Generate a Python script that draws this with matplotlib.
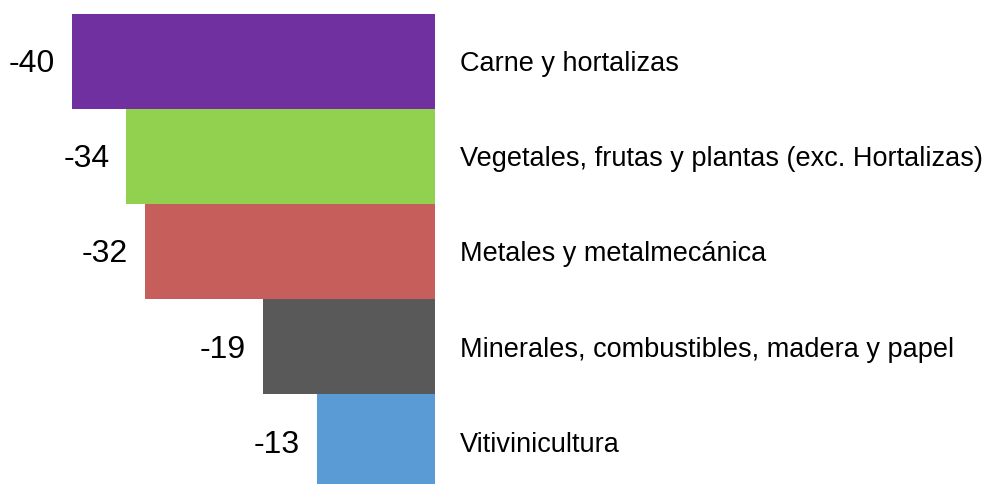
import matplotlib
matplotlib.use('Agg')
import matplotlib.pyplot as plt
from matplotlib.transforms import offset_copy

plt.rcParams['font.family'] = ['Liberation Sans', 'DejaVu Sans']

categorias = ['Carne y hortalizas',
              'Vegetales, frutas y plantas (exc. Hortalizas)',
              'Metales y metalmecánica',
              'Minerales, combustibles, madera y papel',
              'Vitivinicultura']
valores = [-40, -34, -32, -19, -13]
colores = ['#7030A0', '#92D050', '#C65E5B', '#595959', '#5B9BD5']

fig = plt.figure(figsize=(9.93, 4.85), dpi=100)
ax = fig.add_axes([72/993, -5.5/485, 363/993, 476/485])

y = list(range(len(valores)))
ax.barh(y, valores, height=1.0, color=colores)
ax.set_xlim(-40, 0)
ax.set_ylim(len(valores) - 0.5, -0.5)
ax.axis('off')

for i, v in enumerate(valores):
    t = offset_copy(ax.transData, fig=fig, x=-17, y=-2, units='dots')
    ax.text(v, i, str(v), transform=t, ha='right', va='center', fontsize=23)
    t2 = offset_copy(ax.transData, fig=fig, x=25, y=-2, units='dots')
    ax.text(0, i, categorias[i], transform=t2, ha='left', va='center', fontsize=19.5)

fig.savefig('out.png', dpi=100)
